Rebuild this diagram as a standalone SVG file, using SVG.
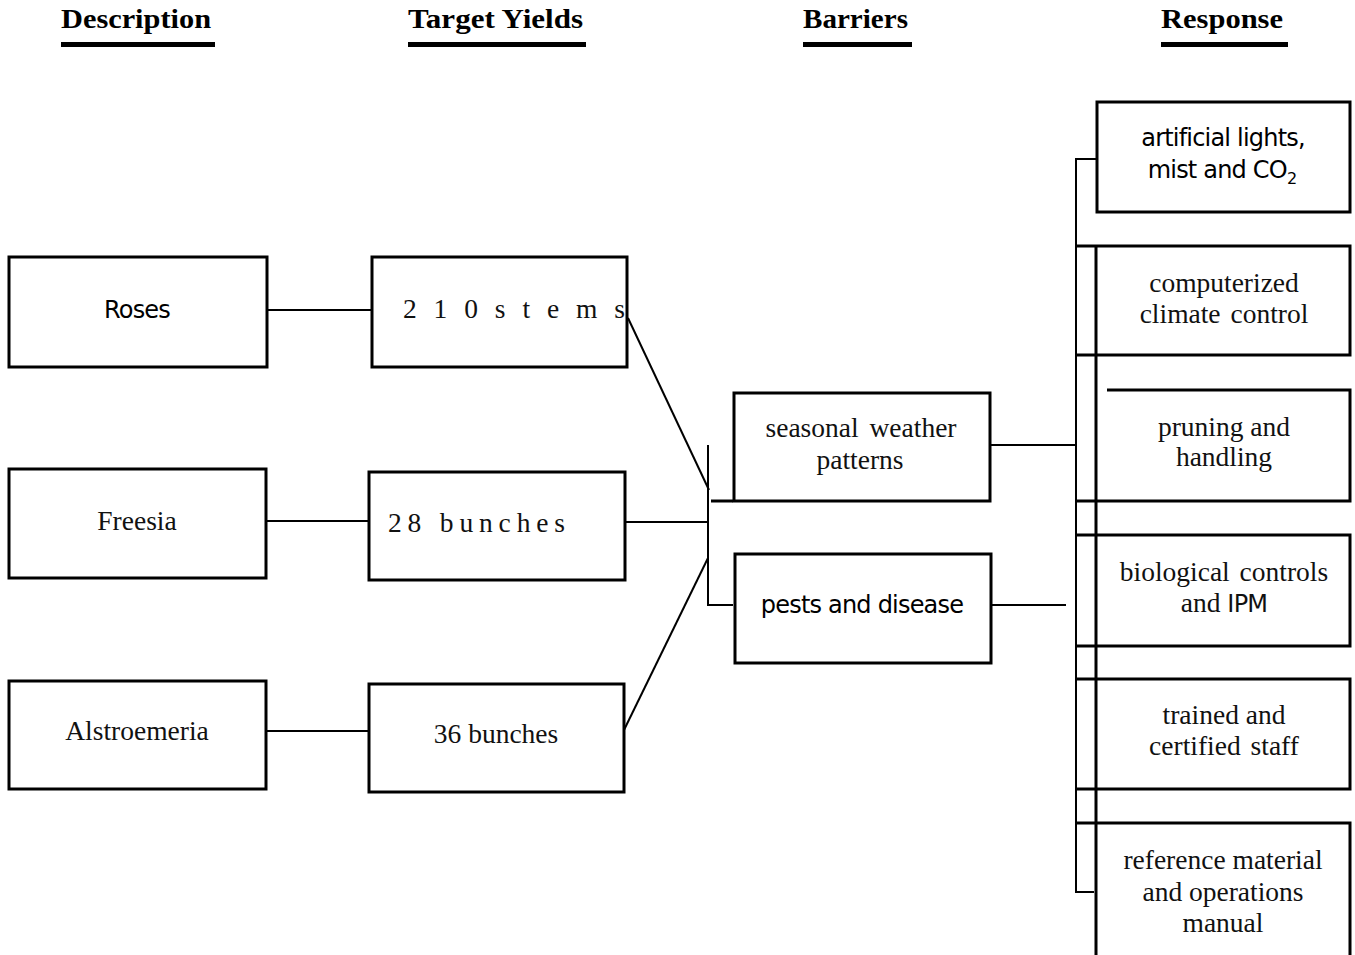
<svg xmlns="http://www.w3.org/2000/svg" width="1355" height="955" viewBox="0 0 1355 955">
<style>
.box{fill:none;stroke:#000;stroke-width:3}
.ln{fill:none;stroke:#000;stroke-width:2}
.thk{fill:none;stroke:#000;stroke-width:3}
.hd{font-family:"Liberation Serif",serif;font-weight:bold;font-size:27px;fill:#000}
.ul{fill:#000}
.t{font-family:"Liberation Serif",serif;font-size:27.5px;fill:#111;text-anchor:middle}
.s{font-family:"DejaVu Sans",sans-serif;font-size:24px;fill:#000;text-anchor:middle;letter-spacing:-0.8px}
</style>
<rect width="1355" height="955" fill="#fff"/>
<g id="headers">
<text class="hd" x="61" y="28" textLength="150" lengthAdjust="spacingAndGlyphs">Description</text>
<rect class="ul" x="61" y="42" width="154" height="5"/>
<text class="hd" x="408" y="28" textLength="175" lengthAdjust="spacingAndGlyphs">Target Yields</text>
<rect class="ul" x="408" y="42" width="178" height="5"/>
<text class="hd" x="803" y="28" textLength="105" lengthAdjust="spacingAndGlyphs">Barriers</text>
<rect class="ul" x="803" y="42" width="109" height="5"/>
<text class="hd" x="1161" y="28" textLength="122" lengthAdjust="spacingAndGlyphs">Response</text>
<rect class="ul" x="1161" y="42" width="127" height="5"/>
</g>
<g id="connectors">
<line class="ln" x1="267" y1="310" x2="372" y2="310"/>
<line class="ln" x1="266" y1="521" x2="369" y2="521"/>
<line class="ln" x1="266" y1="731" x2="369" y2="731"/>
<line class="ln" x1="628" y1="318" x2="709" y2="490"/>
<line class="ln" x1="625" y1="522" x2="709" y2="522"/>
<line class="ln" x1="624" y1="730" x2="708" y2="558"/>
<polyline class="ln" points="708,445 708,605 733,605"/>
<line class="thk" x1="711" y1="501" x2="733" y2="501"/>
<line class="ln" x1="990" y1="445" x2="1077" y2="445"/>
<line class="ln" x1="991" y1="605" x2="1066" y2="605"/>
<polyline class="ln" points="1096,159 1076,159 1076,892 1094,892"/>
<line class="thk" x1="1096" y1="246" x2="1096" y2="955"/>
</g>
<g id="n-roses"><rect class="box" x="9" y="257" width="258" height="110"/><text class="s" x="137" y="318">Roses</text></g>
<g id="n-freesia"><rect class="box" x="9" y="469" width="257" height="109"/><text class="t" x="137" y="530">Freesia</text></g>
<g id="n-alstro"><rect class="box" x="9" y="681" width="257" height="108"/><text class="t" x="137" y="740">Alstroemeria</text></g>
<g id="n-210"><rect class="box" x="372" y="257" width="255" height="110"/><text class="t" x="403" y="318" style="text-anchor:start" textLength="222" lengthAdjust="spacing">210stems</text></g>
<g id="n-28"><rect class="box" x="369" y="472" width="256" height="108"/><text class="t" x="388" y="532" style="text-anchor:start" textLength="177" lengthAdjust="spacing">28 bunches</text></g>
<g id="n-36"><rect class="box" x="369" y="684" width="255" height="108"/><text class="t" x="496" y="743">36 bunches</text></g>
<g id="n-weather"><rect class="box" x="734" y="393" width="256" height="108"/><text class="t" x="861" y="437" word-spacing="4">seasonal weather</text><text class="t" x="860" y="469">patterns</text></g>
<g id="n-pests"><rect class="box" x="735" y="554" width="256" height="109"/><text class="s" x="862" y="613">pests and disease</text></g>
<g id="n-lights"><rect class="box" x="1097" y="102" width="253" height="110"/><text class="s" x="1223" y="146">artificial lights,</text><text class="s" x="1222" y="178">mist and CO<tspan font-size="16" dy="6">2</tspan></text></g>
<g id="n-climate"><polyline class="box" points="1076,246 1350,246 1350,355 1076,355"/><text class="t" x="1224" y="292">computerized</text><text class="t" x="1224" y="323" word-spacing="3">climate control</text></g>
<g id="n-pruning"><polyline class="box" points="1107,390 1350,390 1350,501 1076,501"/><text class="t" x="1224" y="436">pruning and</text><text class="t" x="1224" y="466">handling</text></g>
<g id="n-bio"><polyline class="box" points="1076,535 1350,535 1350,646 1076,646"/><text class="t" x="1224" y="581" word-spacing="3">biological controls</text><text class="t" x="1224" y="612">and <tspan style="font-family:'DejaVu Sans',sans-serif;font-size:24px;letter-spacing:-0.8px">IPM</tspan></text></g>
<g id="n-staff"><polyline class="box" points="1076,679 1350,679 1350,789 1076,789"/><text class="t" x="1224" y="724">trained and</text><text class="t" x="1224" y="755" word-spacing="3">certified staff</text></g>
<g id="n-manual"><polyline class="box" points="1076,823 1350,823 1350,955"/><text class="t" x="1223" y="869">reference material</text><text class="t" x="1223" y="901">and operations</text><text class="t" x="1223" y="932">manual</text></g>
</svg>
